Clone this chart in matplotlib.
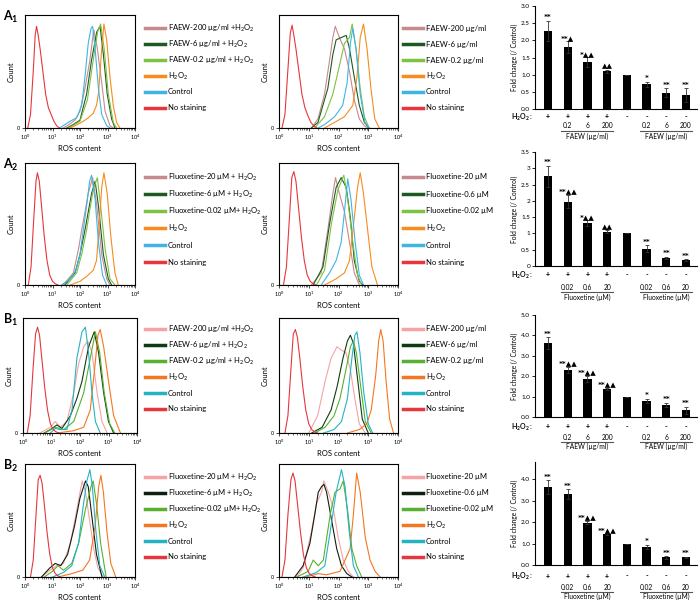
import numpy as np
import matplotlib
matplotlib.use('Agg')
import matplotlib.pyplot as plt
from matplotlib.lines import Line2D
from matplotlib import transforms

plt.rcParams['font.family'] = ['Lato', 'DejaVu Sans']
plt.rcParams['mathtext.fontset'] = 'custom'
plt.rcParams['mathtext.rm'] = 'Lato'
plt.rcParams['mathtext.it'] = 'Lato:italic'
plt.rcParams['mathtext.bf'] = 'Lato:bold'

W, H = 700, 606

# ---- histogram curves: x = log10(ROS content), y = count (fraction of axis height) ----
# A1 left
a1l_f200_x = [1.39, 1.60, 1.82, 2.00, 2.12, 2.18, 2.36, 2.50, 2.62, 2.79, 2.91, 3.09, 3.21]
a1l_f200_y = [0, 0.03, 0.07, 0.15, 0.28, 0.35, 0.60, 0.87, 0.72, 0.40, 0.15, 0.02, 0]
a1l_f6_x = [1.52, 1.75, 2.00, 2.24, 2.42, 2.61, 2.73, 2.85, 2.99, 3.15, 3.27]
a1l_f6_y = [0, 0.03, 0.07, 0.30, 0.60, 0.85, 0.90, 0.65, 0.30, 0.08, 0]
a1l_f02_x = [1.58, 1.80, 2.00, 2.27, 2.48, 2.64, 2.75, 2.88, 3.03, 3.21, 3.33]
a1l_f02_y = [0, 0.03, 0.06, 0.25, 0.60, 0.85, 0.92, 0.70, 0.30, 0.05, 0]
a1l_h2o2_x = [1.64, 1.90, 2.12, 2.30, 2.48, 2.60, 2.67, 2.79, 2.87, 2.97, 3.09, 3.21, 3.33, 3.45]
a1l_h2o2_y = [0, 0.03, 0.06, 0.09, 0.13, 0.20, 0.30, 0.70, 0.92, 0.78, 0.45, 0.20, 0.05, 0]
a1l_ctrl_x = [1.25, 1.45, 1.64, 1.88, 2.06, 2.18, 2.30, 2.40, 2.46, 2.55, 2.67, 2.79, 2.97, 3.10]
a1l_ctrl_y = [0, 0.03, 0.06, 0.09, 0.20, 0.45, 0.75, 0.88, 0.90, 0.70, 0.35, 0.12, 0.02, 0]
a1l_none_x = [0.10, 0.20, 0.30, 0.37, 0.42, 0.48, 0.55, 0.65, 0.75, 0.85, 0.95, 1.05, 1.15, 1.25]
a1l_none_y = [0, 0.12, 0.50, 0.82, 0.90, 0.82, 0.70, 0.50, 0.30, 0.18, 0.12, 0.06, 0.02, 0]

# A1 middle
a1m_f200_x = [1.09, 1.31, 1.53, 1.70, 1.81, 1.89, 2.03, 2.20, 2.37, 2.53, 2.70, 2.87, 3.00]
a1m_f200_y = [0, 0.08, 0.30, 0.60, 0.80, 0.90, 0.80, 0.70, 0.50, 0.25, 0.08, 0.02, 0]
a1m_f6_x = [1.09, 1.31, 1.64, 1.81, 1.92, 2.09, 2.26, 2.37, 2.53, 2.70, 2.87, 3.03]
a1m_f6_y = [0, 0.05, 0.35, 0.65, 0.78, 0.80, 0.82, 0.70, 0.45, 0.20, 0.05, 0]
a1m_f02_x = [1.20, 1.53, 1.81, 2.03, 2.20, 2.37, 2.46, 2.59, 2.73, 2.87, 3.03]
a1m_f02_y = [0, 0.10, 0.30, 0.55, 0.75, 0.80, 0.92, 0.70, 0.35, 0.10, 0]
a1m_h2o2_x = [1.53, 1.87, 2.20, 2.48, 2.62, 2.73, 2.84, 2.96, 3.09, 3.22, 3.37]
a1m_h2o2_y = [0, 0.05, 0.10, 0.20, 0.45, 0.80, 0.92, 0.70, 0.35, 0.08, 0]
a1m_ctrl_x = [1.31, 1.53, 1.87, 2.14, 2.29, 2.40, 2.48, 2.59, 2.73, 2.89, 3.03]
a1m_ctrl_y = [0, 0.03, 0.10, 0.20, 0.40, 0.75, 0.88, 0.70, 0.30, 0.05, 0]
a1m_none_x = [0.10, 0.20, 0.30, 0.38, 0.44, 0.50, 0.57, 0.67, 0.77, 0.87, 0.97, 1.07, 1.17, 1.27]
a1m_none_y = [0, 0.12, 0.52, 0.84, 0.91, 0.82, 0.70, 0.50, 0.30, 0.18, 0.11, 0.05, 0.02, 0]

# A2 left
a2l_f200_x = [1.39, 1.76, 1.95, 2.06, 2.20, 2.30, 2.46, 2.61, 2.79, 2.97, 3.09]
a2l_f200_y = [0, 0.10, 0.30, 0.45, 0.62, 0.75, 0.88, 0.65, 0.25, 0.05, 0]
a2l_f6_x = [1.45, 1.82, 2.00, 2.18, 2.30, 2.42, 2.55, 2.67, 2.85, 3.03, 3.15]
a2l_f6_y = [0, 0.10, 0.25, 0.45, 0.60, 0.75, 0.85, 0.65, 0.25, 0.05, 0]
a2l_f02_x = [1.52, 1.88, 2.06, 2.24, 2.36, 2.48, 2.63, 2.75, 2.91, 3.09, 3.27]
a2l_f02_y = [0, 0.10, 0.25, 0.45, 0.62, 0.78, 0.88, 0.65, 0.30, 0.05, 0]
a2l_h2o2_x = [1.64, 2.00, 2.24, 2.48, 2.60, 2.67, 2.79, 2.87, 2.99, 3.12, 3.27, 3.39]
a2l_h2o2_y = [0, 0.03, 0.07, 0.12, 0.20, 0.40, 0.80, 0.92, 0.75, 0.40, 0.10, 0]
a2l_ctrl_x = [1.33, 1.64, 1.85, 2.00, 2.12, 2.24, 2.35, 2.42, 2.55, 2.67, 2.82, 2.97]
a2l_ctrl_y = [0, 0.05, 0.12, 0.25, 0.45, 0.65, 0.85, 0.90, 0.70, 0.35, 0.08, 0]
a2l_none_x = [0.12, 0.22, 0.32, 0.40, 0.45, 0.52, 0.60, 0.70, 0.80, 0.90, 1.00, 1.10, 1.20]
a2l_none_y = [0, 0.15, 0.55, 0.85, 0.92, 0.85, 0.65, 0.40, 0.20, 0.08, 0.03, 0.01, 0]

# A2 middle
a2m_f200_x = [1.09, 1.42, 1.64, 1.81, 1.90, 2.03, 2.20, 2.37, 2.53, 2.70]
a2m_f200_y = [0, 0.10, 0.45, 0.75, 0.88, 0.75, 0.60, 0.35, 0.10, 0]
a2m_f6_x = [1.15, 1.48, 1.70, 1.92, 2.09, 2.26, 2.40, 2.53, 2.70, 2.82]
a2m_f6_y = [0, 0.15, 0.50, 0.80, 0.88, 0.80, 0.55, 0.20, 0.03, 0]
a2m_f02_x = [1.26, 1.53, 1.76, 1.98, 2.18, 2.31, 2.48, 2.64, 2.78]
a2m_f02_y = [0, 0.12, 0.50, 0.78, 0.90, 0.70, 0.35, 0.08, 0]
a2m_h2o2_x = [1.53, 1.92, 2.20, 2.37, 2.53, 2.64, 2.73, 2.84, 2.98, 3.12, 3.31]
a2m_h2o2_y = [0, 0.05, 0.10, 0.20, 0.55, 0.80, 0.92, 0.75, 0.45, 0.15, 0]
a2m_ctrl_x = [1.42, 1.70, 1.92, 2.09, 2.20, 2.31, 2.42, 2.56, 2.70, 2.84]
a2m_ctrl_y = [0, 0.10, 0.20, 0.35, 0.60, 0.87, 0.70, 0.35, 0.08, 0]
a2m_none_x = [0.15, 0.25, 0.35, 0.43, 0.50, 0.57, 0.65, 0.75, 0.85, 0.95, 1.05, 1.15, 1.25]
a2m_none_y = [0, 0.15, 0.55, 0.88, 0.93, 0.85, 0.65, 0.40, 0.20, 0.08, 0.03, 0.01, 0]

# B1 left
b1l_f200_x = [0.60, 0.96, 1.13, 1.31, 1.54, 1.78, 1.95, 2.13, 2.27, 2.42, 2.60, 2.77, 2.95]
b1l_f200_y = [0, 0.05, 0.10, 0.05, 0.10, 0.35, 0.60, 0.75, 0.80, 0.70, 0.35, 0.10, 0]
b1l_f6_x = [0.75, 0.96, 1.19, 1.37, 1.66, 1.89, 2.07, 2.30, 2.50, 2.65, 2.83, 3.00, 3.18]
b1l_f6_y = [0, 0.03, 0.07, 0.04, 0.15, 0.30, 0.45, 0.75, 0.88, 0.70, 0.35, 0.10, 0]
b1l_f02_x = [0.75, 1.13, 1.43, 1.78, 2.13, 2.36, 2.54, 2.69, 2.85, 3.04, 3.22]
b1l_f02_y = [0, 0.05, 0.03, 0.10, 0.35, 0.65, 0.88, 0.70, 0.35, 0.08, 0]
b1l_h2o2_x = [1.20, 1.78, 2.13, 2.36, 2.51, 2.63, 2.71, 2.83, 3.00, 3.18, 3.42]
b1l_h2o2_y = [0, 0.02, 0.05, 0.20, 0.55, 0.85, 0.90, 0.75, 0.45, 0.15, 0]
b1l_ctrl_x = [0.96, 1.13, 1.31, 1.54, 1.72, 1.89, 2.07, 2.19, 2.30, 2.42, 2.54, 2.71]
b1l_ctrl_y = [0, 0.04, 0.03, 0.03, 0.20, 0.65, 0.88, 0.92, 0.70, 0.35, 0.10, 0]
b1l_none_x = [0.15, 0.25, 0.35, 0.44, 0.51, 0.58, 0.66, 0.76, 0.86, 0.96, 1.06, 1.16, 1.26]
b1l_none_y = [0, 0.15, 0.55, 0.86, 0.92, 0.85, 0.65, 0.40, 0.20, 0.08, 0.03, 0.01, 0]

# B1 middle
b1m_f200_x = [1.00, 1.30, 1.55, 1.75, 1.95, 2.10, 2.25, 2.40, 2.55, 2.70, 2.90]
b1m_f200_y = [0, 0.15, 0.45, 0.65, 0.75, 0.72, 0.70, 0.55, 0.30, 0.08, 0]
b1m_f6_x = [1.10, 1.45, 1.75, 1.95, 2.15, 2.30, 2.40, 2.50, 2.65, 2.80, 3.00]
b1m_f6_y = [0, 0.05, 0.20, 0.40, 0.65, 0.80, 0.85, 0.78, 0.45, 0.12, 0]
b1m_f02_x = [1.20, 1.55, 1.85, 2.05, 2.25, 2.40, 2.50, 2.60, 2.75, 2.90, 3.10]
b1m_f02_y = [0, 0.05, 0.15, 0.30, 0.55, 0.75, 0.80, 0.70, 0.40, 0.10, 0]
b1m_h2o2_x = [2.30, 2.70, 2.95, 3.10, 3.25, 3.35, 3.42, 3.50, 3.60, 3.72, 3.85]
b1m_h2o2_y = [0, 0.03, 0.08, 0.20, 0.50, 0.80, 0.90, 0.80, 0.45, 0.12, 0]
b1m_ctrl_x = [1.50, 1.85, 2.10, 2.30, 2.45, 2.55, 2.62, 2.72, 2.85, 3.00, 3.15]
b1m_ctrl_y = [0, 0.03, 0.10, 0.30, 0.65, 0.85, 0.88, 0.70, 0.35, 0.08, 0]
b1m_none_x = [0.20, 0.30, 0.40, 0.48, 0.55, 0.62, 0.70, 0.80, 0.90, 1.00, 1.10, 1.20, 1.30]
b1m_none_y = [0, 0.15, 0.55, 0.86, 0.90, 0.83, 0.65, 0.40, 0.20, 0.08, 0.03, 0.01, 0]

# B2 left
b2l_f200_x = [0.60, 0.90, 1.15, 1.40, 1.65, 1.85, 2.00, 2.08, 2.20, 2.35, 2.50, 2.65, 2.85]
b2l_f200_y = [0, 0.06, 0.10, 0.12, 0.30, 0.55, 0.75, 0.85, 0.75, 0.50, 0.25, 0.08, 0]
b2l_f6_x = [0.60, 0.90, 1.10, 1.30, 1.55, 1.80, 2.00, 2.20, 2.30, 2.45, 2.60, 2.80]
b2l_f6_y = [0, 0.08, 0.12, 0.10, 0.20, 0.45, 0.70, 0.85, 0.80, 0.50, 0.20, 0]
b2l_f02_x = [0.70, 1.00, 1.20, 1.40, 1.70, 1.95, 2.20, 2.40, 2.48, 2.60, 2.75, 2.95]
b2l_f02_y = [0, 0.05, 0.10, 0.06, 0.12, 0.30, 0.60, 0.80, 0.85, 0.65, 0.30, 0]
b2l_h2o2_x = [1.20, 1.70, 2.10, 2.35, 2.55, 2.68, 2.76, 2.85, 2.98, 3.12, 3.30]
b2l_h2o2_y = [0, 0.03, 0.06, 0.15, 0.45, 0.80, 0.90, 0.75, 0.40, 0.12, 0]
b2l_ctrl_x = [1.00, 1.40, 1.70, 1.95, 2.10, 2.25, 2.36, 2.45, 2.58, 2.72, 2.90]
b2l_ctrl_y = [0, 0.04, 0.10, 0.30, 0.60, 0.85, 0.95, 0.80, 0.40, 0.10, 0]
b2l_none_x = [0.20, 0.30, 0.40, 0.48, 0.55, 0.62, 0.70, 0.80, 0.90, 1.00, 1.10, 1.20, 1.30]
b2l_none_y = [0, 0.15, 0.55, 0.86, 0.90, 0.83, 0.65, 0.40, 0.20, 0.08, 0.03, 0.01, 0]

# B2 middle
b2m_f200_x = [0.60, 0.81, 1.09, 1.26, 1.43, 1.51, 1.66, 1.83, 1.99, 2.16, 2.33, 2.50]
b2m_f200_y = [0, 0.08, 0.40, 0.65, 0.75, 0.85, 0.75, 0.60, 0.35, 0.15, 0.05, 0]
b2m_f6_x = [0.53, 0.81, 1.04, 1.20, 1.32, 1.43, 1.51, 1.60, 1.77, 1.94, 2.10, 2.28, 2.45]
b2m_f6_y = [0, 0.10, 0.30, 0.55, 0.75, 0.80, 0.82, 0.75, 0.50, 0.25, 0.10, 0.03, 0]
b2m_f02_x = [0.60, 0.98, 1.15, 1.32, 1.49, 1.72, 1.88, 2.05, 2.16, 2.30, 2.45, 2.61, 2.78]
b2m_f02_y = [0, 0.05, 0.15, 0.10, 0.15, 0.55, 0.75, 0.78, 0.85, 0.60, 0.25, 0.10, 0]
b2m_h2o2_x = [0.90, 1.32, 1.60, 2.05, 2.39, 2.50, 2.61, 2.73, 2.90, 3.06, 3.23, 3.40]
b2m_h2o2_y = [0, 0.03, 0.02, 0.05, 0.25, 0.55, 0.92, 0.75, 0.35, 0.15, 0.05, 0]
b2m_ctrl_x = [0.81, 1.26, 1.54, 1.72, 1.92, 2.10, 2.22, 2.36, 2.50, 2.67]
b2m_ctrl_y = [0, 0.04, 0.10, 0.40, 0.75, 0.95, 0.80, 0.40, 0.10, 0]
b2m_none_x = [0.10, 0.20, 0.30, 0.40, 0.47, 0.54, 0.62, 0.72, 0.82, 0.92, 1.02, 1.12, 1.22]
b2m_none_y = [0, 0.15, 0.55, 0.86, 0.92, 0.85, 0.65, 0.40, 0.20, 0.08, 0.03, 0.01, 0]

# ---- legend labels ----
faew_h2o2_labels = ['FAEW-200 µg/ml +H$_2$O$_2$', 'FAEW-6 µg/ml + H$_2$O$_2$',
                    'FAEW-0.2 µg/ml + H$_2$O$_2$', 'H$_2$O$_2$', 'Control', 'No staining']
faew_labels = ['FAEW-200 µg/ml', 'FAEW-6 µg/ml', 'FAEW-0.2 µg/ml', 'H$_2$O$_2$', 'Control', 'No staining']
flx_h2o2_labels = ['Fluoxetine-20 µM + H$_2$O$_2$', 'Fluoxetine-6 µM + H$_2$O$_2$',
                   'Fluoxetine-0.02 µM+ H$_2$O$_2$', 'H$_2$O$_2$', 'Control', 'No staining']
flx_labels = ['Fluoxetine-20 µM', 'Fluoxetine-0.6 µM', 'Fluoxetine-0.02 µM', 'H$_2$O$_2$', 'Control', 'No staining']

colors_a = ['#c68a8e', '#1d5a22', '#7dc242', '#f68c1e', '#40b4e5', '#e8363c']
colors_b1 = ['#f5a3a5', '#0e3b12', '#58b030', '#f37721', '#25b3c3', '#e4383e']
colors_b2 = ['#f5a3a5', '#101e10', '#58b030', '#f37721', '#25b3c3', '#e4383e']

# ---- bar charts ----
signs = ['+', '+', '+', '+', '-', '-', '-', '-']

a1_vals = [2.27, 1.80, 1.36, 1.10, 1.00, 0.72, 0.48, 0.40]
a1_errs = [0.30, 0.17, 0.15, 0.04, 0.0, 0.08, 0.12, 0.20]
a1_marks = ['**', '**▲', '*▲▲', '▲▲', '', '*', '**', '**']

a2_vals = [2.75, 1.98, 1.32, 1.05, 1.00, 0.53, 0.24, 0.17]
a2_errs = [0.33, 0.20, 0.08, 0.05, 0.0, 0.10, 0.04, 0.03]
a2_marks = ['**', '**▲▲', '*▲▲', '▲▲', '', '**', '**', '**']

b1_vals = [3.62, 2.30, 1.88, 1.37, 1.00, 0.80, 0.60, 0.32]
b1_errs = [0.30, 0.15, 0.15, 0.05, 0.0, 0.10, 0.10, 0.18]
b1_marks = ['**', '**▲▲', '**▲▲', '**▲▲', '', '*', '**', '**']

b2_vals = [3.62, 3.30, 1.97, 1.43, 1.00, 0.85, 0.35, 0.35]
b2_errs = [0.32, 0.22, 0.08, 0.05, 0.0, 0.10, 0.05, 0.03]
b2_marks = ['**', '**', '**▲▲', '**▲▲', '', '*', '**', '**']

faew_doses = ['0.2', '6', '200']
flx_doses = ['0.02', '0.6', '20']

fig = plt.figure(figsize=(W / 100, H / 100), dpi=100)


def px_rect(x0, y0, x1, y1):
    return [x0 / W, 1 - y1 / H, (x1 - x0) / W, (y1 - y0) / H]


def legend_block(colors, labels, x, y0, step):
    # hand-placed legend so every row gets the same pitch
    for i, (c, lab) in enumerate(zip(colors, labels)):
        yy = 1 - (y0 + i * step) / H
        fig.add_artist(Line2D([x / W, (x + 20) / W], [yy, yy], color=c, lw=2.5))
        fig.text((x + 23) / W, yy, lab, fontsize=5.5, ha='left', va='center')


def hist_panel(box, curves, colors, labels, leg_x, leg_y, step=16):
    ax = fig.add_axes(px_rect(*box))
    for (xs, ys), c in zip(curves, colors):
        ax.plot(10 ** np.array(xs), ys, color=c, lw=0.8, clip_on=False)
    ax.axhline(0, color='#a04040', lw=0.8)
    ax.set_xscale('log')
    ax.set_xlim(1, 1e4)
    ax.set_ylim(0, 1)
    ax.set_yticks([0])
    ax.set_yticklabels(['0'])
    ax.tick_params(axis='both', labelsize=4, length=2, width=0.5, pad=1.5)
    ax.tick_params(axis='x', which='minor', length=1.2, width=0.4)
    for s in ax.spines.values():
        s.set_linewidth(0.8)
    ax.set_xlabel('ROS content', fontsize=5.5, labelpad=2)
    ax.set_ylabel('Count', fontsize=5.5, labelpad=2)
    legend_block(colors, labels, leg_x, leg_y, step)
    return ax


def bar_panel(box, vals, errs, marks, ymax, yticks, yticklabels, doses, unit, offs):
    ax = fig.add_axes(px_rect(*box))
    pos = np.arange(len(vals))
    ax.bar(pos, vals, width=0.42, color='black', yerr=errs,
           error_kw=dict(ecolor='#333333', elinewidth=0.6, capsize=1.5, capthick=0.6))
    for p, v, e, m in zip(pos, vals, errs, marks):
        ax.annotate(m, (p, v + e), xytext=(0, 0.3), textcoords='offset points',
                    ha='center', va='bottom', fontsize=5.1, fontweight='bold',
                    family='DejaVu Sans')
    ax.set_xlim(-0.66, 7.56)
    ax.set_ylim(0, ymax)
    ax.set_yticks(yticks)
    ax.set_yticklabels(yticklabels)
    ax.set_xticks([])
    ax.spines['top'].set_visible(False)
    ax.spines['right'].set_visible(False)
    ax.spines['left'].set_linewidth(0.8)
    ax.spines['bottom'].set_linewidth(0.8)
    ax.tick_params(axis='y', labelsize=4.6, length=2, width=0.6, pad=1.5)
    ax.set_ylabel('Fold change (/ Control)', fontsize=4.8, labelpad=2)

    tr = ax.get_xaxis_transform()

    def below(dy):
        return transforms.offset_copy(tr, fig=fig, y=-dy, units='dots')

    ax.text(-0.72, 0, r'$\mathbf{H_2O_2}$ :', transform=below(offs[0]),
            ha='right', va='center', fontsize=5, fontweight='bold')
    for p, s in zip(pos, signs):
        ax.text(p, 0, s, transform=below(offs[0]), ha='center', va='center',
                fontsize=5, fontweight='bold')
    for group in ([1, 2, 3], [5, 6, 7]):
        for p, d in zip(group, doses):
            ax.text(p, 0, d, transform=below(offs[1]), ha='center', va='center', fontsize=4.8)
        ax.plot([group[0] - 0.35, group[-1] + 0.3], [0, 0], transform=below(offs[1] + 4.5),
                color='#555555', lw=0.8, clip_on=False)
        ax.text(group[1], 0, unit, transform=below(offs[2]), ha='center', va='center', fontsize=4.8)
    return ax


rows = [(15, 128), (163, 285), (318, 433), (464, 577)]

hist_panel((25, 15, 135, 128),
           [(a1l_f200_x, a1l_f200_y), (a1l_f6_x, a1l_f6_y), (a1l_f02_x, a1l_f02_y),
            (a1l_h2o2_x, a1l_h2o2_y), (a1l_ctrl_x, a1l_ctrl_y), (a1l_none_x, a1l_none_y)],
           colors_a, faew_h2o2_labels, 145, 28)
hist_panel((279, 15, 398, 128),
           [(a1m_f200_x, a1m_f200_y), (a1m_f6_x, a1m_f6_y), (a1m_f02_x, a1m_f02_y),
            (a1m_h2o2_x, a1m_h2o2_y), (a1m_ctrl_x, a1m_ctrl_y), (a1m_none_x, a1m_none_y)],
           colors_a, faew_labels, 403, 28)
hist_panel((25, 163, 135, 285),
           [(a2l_f200_x, a2l_f200_y), (a2l_f6_x, a2l_f6_y), (a2l_f02_x, a2l_f02_y),
            (a2l_h2o2_x, a2l_h2o2_y), (a2l_ctrl_x, a2l_ctrl_y), (a2l_none_x, a2l_none_y)],
           colors_a, flx_h2o2_labels, 145, 177, 17)
hist_panel((279, 163, 398, 285),
           [(a2m_f200_x, a2m_f200_y), (a2m_f6_x, a2m_f6_y), (a2m_f02_x, a2m_f02_y),
            (a2m_h2o2_x, a2m_h2o2_y), (a2m_ctrl_x, a2m_ctrl_y), (a2m_none_x, a2m_none_y)],
           colors_a, flx_labels, 403, 177, 17)
hist_panel((23, 318, 137, 433),
           [(b1l_f200_x, b1l_f200_y), (b1l_f6_x, b1l_f6_y), (b1l_f02_x, b1l_f02_y),
            (b1l_h2o2_x, b1l_h2o2_y), (b1l_ctrl_x, b1l_ctrl_y), (b1l_none_x, b1l_none_y)],
           colors_b1, faew_h2o2_labels, 145, 329)
hist_panel((279, 318, 398, 433),
           [(b1m_f200_x, b1m_f200_y), (b1m_f6_x, b1m_f6_y), (b1m_f02_x, b1m_f02_y),
            (b1m_h2o2_x, b1m_h2o2_y), (b1m_ctrl_x, b1m_ctrl_y), (b1m_none_x, b1m_none_y)],
           colors_b1, faew_labels, 403, 329)
hist_panel((25, 464, 135, 577),
           [(b2l_f200_x, b2l_f200_y), (b2l_f6_x, b2l_f6_y), (b2l_f02_x, b2l_f02_y),
            (b2l_h2o2_x, b2l_h2o2_y), (b2l_ctrl_x, b2l_ctrl_y), (b2l_none_x, b2l_none_y)],
           colors_b2, flx_h2o2_labels, 145, 477)
hist_panel((279, 464, 398, 577),
           [(b2m_f200_x, b2m_f200_y), (b2m_f6_x, b2m_f6_y), (b2m_f02_x, b2m_f02_y),
            (b2m_h2o2_x, b2m_h2o2_y), (b2m_ctrl_x, b2m_ctrl_y), (b2m_none_x, b2m_none_y)],
           colors_b2, flx_labels, 403, 477)

bar_panel((535, 6, 697, 109), a1_vals, a1_errs, a1_marks, 3.0,
          [0, 0.5, 1, 1.5, 2, 2.5, 3], ['0.0', '0.5', '1.0', '1.5', '2.0', '2.5', '3.0'],
          faew_doses, 'FAEW (µg/ml)', (8, 17, 27))
bar_panel((535, 152, 697, 266), a2_vals, a2_errs, a2_marks, 3.5,
          [0, 0.5, 1, 1.5, 2, 2.5, 3, 3.5], ['0', '0.5', '1', '1.5', '2', '2.5', '3', '3.5'],
          flx_doses, 'Fluoxetine (µM)', (9, 21, 31))
bar_panel((535, 315, 697, 417), b1_vals, b1_errs, b1_marks, 5.0,
          [0, 1, 2, 3, 4, 5], ['0.0', '1.0', '2.0', '3.0', '4.0', '5.0'],
          faew_doses, 'FAEW (µg/ml)', (10, 20, 29))
bar_panel((535, 462, 697, 565), b2_vals, b2_errs, b2_marks, 4.8,
          [0, 1, 2, 3, 4], ['0.0', '1.0', '2.0', '3.0', '4.0'],
          flx_doses, 'Fluoxetine (µM)', (11, 22, 31))

row_labels = [r'$\mathbf{A_1}$', r'$\mathbf{A_2}$', r'$\mathbf{B_1}$', r'$\mathbf{B_2}$']
for lab, (top, _) in zip(row_labels, rows):
    fig.text(3 / W, 1 - (top + 2) / H, lab, fontsize=9, ha='left', va='center')

fig.savefig('out.png', dpi=100)
